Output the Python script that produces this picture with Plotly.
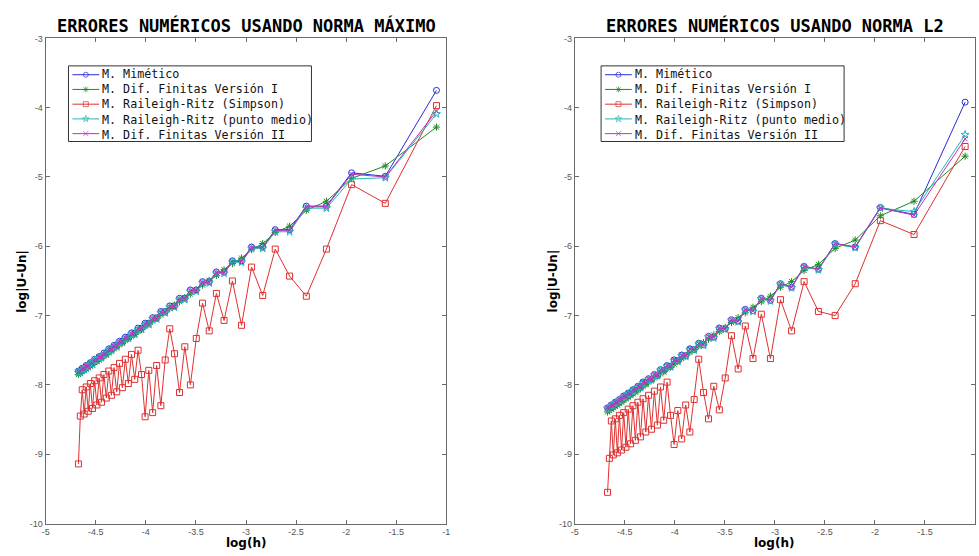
import plotly.graph_objects as go

# log(h) values, h = 1/N for N = 3, 5, ..., 107
x_logh = [-1.0986, -1.6094, -1.9459, -2.1972, -2.3979, -2.5649, -2.7081, -2.8332, -2.9444,
          -3.0445, -3.1355, -3.2189, -3.2958, -3.3673, -3.4340, -3.4965, -3.5553, -3.6109,
          -3.6636, -3.7136, -3.7612, -3.8067, -3.8501, -3.8918, -3.9318, -3.9703, -4.0073,
          -4.0431, -4.0775, -4.1109, -4.1431, -4.1744, -4.2047, -4.2341, -4.2627, -4.2905,
          -4.3175, -4.3438, -4.3694, -4.3944, -4.4188, -4.4427, -4.4659, -4.4886, -4.5109,
          -4.5326, -4.5539, -4.5747, -4.5951, -4.6151, -4.6347, -4.6540, -4.6728]

# ---- Norma máximo (left) ----
max_mimetico = [-3.75, -4.99, -4.94, -5.42, -5.42, -5.76, -5.76, -6.01, -6.01, -6.21, -6.21,
                -6.37, -6.37, -6.51, -6.51, -6.63, -6.63, -6.75, -6.75, -6.86, -6.86, -6.94,
                -6.94, -7.03, -7.03, -7.11, -7.11, -7.18, -7.18, -7.25, -7.25, -7.31, -7.31,
                -7.37, -7.37, -7.43, -7.43, -7.48, -7.48, -7.54, -7.54, -7.59, -7.59, -7.63,
                -7.63, -7.68, -7.68, -7.72, -7.72, -7.76, -7.76, -7.80, -7.80]
max_dif1 = [-4.28, -4.84, -5.02, -5.35, -5.48, -5.71, -5.80, -5.96, -6.05, -6.17, -6.25,
            -6.34, -6.42, -6.49, -6.56, -6.63, -6.69, -6.74, -6.80, -6.85, -6.90, -6.95,
            -6.99, -7.04, -7.08, -7.12, -7.16, -7.20, -7.23, -7.27, -7.30, -7.33, -7.36,
            -7.39, -7.42, -7.45, -7.48, -7.51, -7.54, -7.56, -7.59, -7.61, -7.64, -7.66,
            -7.68, -7.71, -7.73, -7.75, -7.77, -7.79, -7.81, -7.83, -7.85]
max_simpson = [-3.97, -5.38, -5.11, -6.04, -6.72, -6.43, -6.04, -6.71, -6.30, -7.14, -6.50,
               -7.07, -6.68, -7.22, -6.82, -7.33, -8.00, -7.45, -8.11, -7.55, -7.19, -7.64,
               -8.30, -7.72, -8.40, -7.79, -8.46, -7.85, -7.50, -7.92, -7.56, -7.98, -7.63,
               -8.04, -7.69, -8.10, -7.75, -8.15, -7.80, -8.19, -7.85, -8.25, -7.90, -8.29,
               -7.94, -8.34, -7.98, -8.38, -8.03, -8.42, -8.07, -8.45, -9.14]
max_pmedio = [-4.09, -5.01, -5.03, -5.45, -5.45, -5.79, -5.79, -6.03, -6.03, -6.23, -6.23,
              -6.39, -6.39, -6.53, -6.53, -6.65, -6.65, -6.77, -6.77, -6.88, -6.88, -6.96,
              -6.96, -7.05, -7.05, -7.13, -7.13, -7.20, -7.20, -7.27, -7.27, -7.33, -7.33,
              -7.39, -7.39, -7.45, -7.45, -7.50, -7.50, -7.56, -7.56, -7.61, -7.61, -7.65,
              -7.65, -7.70, -7.70, -7.74, -7.74, -7.78, -7.78, -7.82, -7.82]
max_dif2 = [-4.05, -5.00, -4.96, -5.43, -5.43, -5.77, -5.77, -6.02, -6.02, -6.22, -6.22,
            -6.38, -6.38, -6.52, -6.52, -6.64, -6.64, -6.76, -6.76, -6.87, -6.87, -6.95,
            -6.95, -7.04, -7.04, -7.12, -7.12, -7.19, -7.19, -7.26, -7.26, -7.32, -7.32,
            -7.38, -7.38, -7.44, -7.44, -7.49, -7.49, -7.55, -7.55, -7.60, -7.60, -7.64,
            -7.64, -7.69, -7.69, -7.73, -7.73, -7.77, -7.77, -7.81, -7.81]

# ---- Norma L2 (right) ----
l2_mimetico = [-3.92, -5.54, -5.44, -6.01, -5.96, -6.33, -6.29, -6.59, -6.54, -6.78, -6.75,
               -6.93, -6.91, -7.08, -7.06, -7.19, -7.18, -7.31, -7.30, -7.42, -7.40, -7.49,
               -7.48, -7.58, -7.57, -7.65, -7.64, -7.73, -7.72, -7.79, -7.78, -7.86, -7.85,
               -7.92, -7.91, -7.97, -7.96, -8.03, -8.02, -8.08, -8.07, -8.13, -8.12, -8.17,
               -8.16, -8.22, -8.21, -8.26, -8.25, -8.30, -8.29, -8.34, -8.33]
l2_dif1 = [-4.70, -5.35, -5.56, -5.91, -6.03, -6.26, -6.35, -6.51, -6.59, -6.72, -6.80,
           -6.88, -6.96, -7.03, -7.10, -7.17, -7.23, -7.28, -7.34, -7.39, -7.44, -7.49,
           -7.53, -7.58, -7.62, -7.66, -7.70, -7.74, -7.77, -7.81, -7.84, -7.87, -7.90,
           -7.93, -7.96, -7.99, -8.02, -8.05, -8.08, -8.10, -8.13, -8.15, -8.18, -8.20,
           -8.22, -8.25, -8.27, -8.29, -8.31, -8.33, -8.35, -8.37, -8.39]
l2_simpson = [-4.56, -5.83, -5.63, -6.54, -7.00, -6.94, -6.51, -7.22, -6.77, -7.62, -6.98,
              -7.62, -7.15, -7.77, -7.29, -7.90, -8.36, -8.02, -8.49, -8.11, -7.63, -8.21,
              -8.68, -8.29, -8.78, -8.37, -8.86, -8.44, -7.96, -8.51, -8.03, -8.58, -8.09,
              -8.64, -8.15, -8.68, -8.20, -8.75, -8.25, -8.80, -8.30, -8.85, -8.35, -8.90,
              -8.40, -8.94, -8.44, -8.98, -8.49, -9.01, -8.52, -9.06, -9.55]
l2_pmedio = [-4.39, -5.50, -5.45, -6.02, -5.97, -6.34, -6.30, -6.60, -6.55, -6.79, -6.76,
             -6.94, -6.92, -7.09, -7.07, -7.20, -7.19, -7.32, -7.31, -7.43, -7.41, -7.50,
             -7.49, -7.59, -7.58, -7.66, -7.65, -7.74, -7.73, -7.80, -7.79, -7.87, -7.86,
             -7.93, -7.92, -7.98, -7.97, -8.04, -8.03, -8.09, -8.08, -8.14, -8.13, -8.18,
             -8.17, -8.23, -8.22, -8.27, -8.26, -8.31, -8.30, -8.35, -8.34]
l2_dif2 = [-4.45, -5.55, -5.45, -6.01, -5.96, -6.33, -6.29, -6.59, -6.54, -6.78, -6.75,
           -6.93, -6.91, -7.08, -7.06, -7.19, -7.18, -7.31, -7.30, -7.42, -7.40, -7.49,
           -7.48, -7.58, -7.57, -7.65, -7.64, -7.73, -7.72, -7.79, -7.78, -7.86, -7.85,
           -7.92, -7.91, -7.97, -7.96, -8.03, -8.02, -8.08, -8.07, -8.13, -8.12, -8.17,
           -8.16, -8.22, -8.21, -8.26, -8.25, -8.30, -8.29, -8.34, -8.33]

names = ["M. Mimético", "M. Dif. Finitas Versión I", "M. Raileigh-Ritz (Simpson)",
         "M. Raileigh-Ritz (punto medio)", "M. Dif. Finitas Versión II"]
colors = ["#2a2ad8", "#1f8a1f", "#e03030", "#20b8b8", "#c030c0"]
symbols = ["circle-open", "asterisk-open", "square-open", "star-open", "x-thin-open"]
sizes = [6, 6, 6, 6, 5]

left_series = [max_mimetico, max_dif1, max_simpson, max_pmedio, max_dif2]
right_series = [l2_mimetico, l2_dif1, l2_simpson, l2_pmedio, l2_dif2]

W, H = 979, 556
fig = go.Figure()


def add_series(series, xa, ya):
    for i, ys in enumerate(series):
        fig.add_trace(go.Scatter(
            x=x_logh, y=ys, mode="lines+markers", name=names[i], showlegend=False,
            line=dict(color=colors[i], width=1),
            marker=dict(symbol=symbols[i], size=sizes[i], color=colors[i],
                        line=dict(width=1, color=colors[i])),
            xaxis=xa, yaxis=ya))


add_series(left_series, "x", "y")
add_series(right_series, "x2", "y2")

# ---- legend boxes (pixel-space overlay axis) ----
leg_left = [65, 602]        # box left edges (px)
leg_top, row0, row_gap = 62, 71, 15
leg_w, leg_h = 245, 77
for lx in leg_left:
    for i in range(len(names)):
        ry = row0 + row_gap * i
        fig.add_trace(go.Scatter(
            x=[lx + 4, lx + 17.5, lx + 31], y=[ry, ry, ry], mode="lines+markers",
            showlegend=False, hoverinfo="skip",
            line=dict(color=colors[i], width=1),
            marker=dict(symbol=symbols[i], size=[0, 5, 0], color=colors[i],
                        line=dict(width=1, color=colors[i])),
            xaxis="x3", yaxis="y3"))
    fig.add_shape(type="rect", xref="paper", yref="paper",
                  x0=lx / W, x1=(lx + leg_w) / W, y0=1 - leg_top / H, y1=1 - (leg_top + leg_h) / H,
                  line=dict(color="#333333", width=1), fillcolor="rgba(0,0,0,0)", layer="above")
    fig.add_annotation(xref="paper", yref="paper", x=(lx + 32) / W, y=1 - (row0 + 2 * row_gap) / H,
                       xanchor="left", yanchor="middle", align="left", showarrow=False,
                       text="<br>".join(names),
                       font=dict(family="DejaVu Sans Mono", size=11.7, color="#111111"))

xt = [-5, -4.5, -4, -3.5, -3, -2.5, -2, -1.5, -1]
xtt = ["-5", "-4.5", "-4", "-3.5", "-3", "-2.5", "-2", "-1.5", "-1"]
yt = [-10, -9, -8, -7, -6, -5, -4, -3]
ytt = ["-10", "-9", "-8", "-7", "-6", "-5", "-4", "-3"]

tickfont = dict(family="Liberation Sans, Arial", size=9, color="#555555")
axcommon = dict(showgrid=False, zeroline=False, showline=True, linecolor="#6a6a6a", linewidth=1,
                mirror="ticks", ticks="inside", ticklen=4, tickcolor="#6a6a6a", tickwidth=1,
                tickfont=tickfont)

ybot = (H - 528) / H
ytop = (H - 34) / H

fig.update_layout(
    width=W, height=H, margin=dict(l=0, r=0, t=0, b=0),
    paper_bgcolor="white", plot_bgcolor="rgba(0,0,0,0)", showlegend=False,
    xaxis=dict(domain=[42 / W, 446 / W], range=[-5, -1], tickvals=xt, ticktext=xtt, anchor="y", **axcommon),
    yaxis=dict(domain=[ybot, ytop], range=[-10, -3], tickvals=yt, ticktext=ytt, anchor="x", **axcommon),
    xaxis2=dict(domain=[575.5 / W, 1.0], range=[-5, -1], tickvals=xt, ticktext=xtt, anchor="y2", **axcommon),
    yaxis2=dict(domain=[ybot, ytop], range=[-10, -3], tickvals=yt, ticktext=ytt, anchor="x2", **axcommon),
    xaxis3=dict(domain=[0, 1], range=[0, W], visible=False, anchor="y3", fixedrange=True),
    yaxis3=dict(domain=[0, 1], range=[H, 0], visible=False, anchor="x3", fixedrange=True),
)

titlefont = dict(family="DejaVu Sans Mono", size=17, color="black")
labfont = dict(family="DejaVu Sans", size=12, color="black")
ann = [
    dict(text="<b>ERRORES NUMÉRICOS USANDO NORMA MÁXIMO</b>", x=244 / W, y=1 - 21 / H, font=titlefont),
    dict(text="<b>ERRORES NUMÉRICOS USANDO NORMA L2</b>", x=777 / W, y=1 - 21 / H, font=titlefont),
    dict(text="<b>log(h)</b>", x=244 / W, y=1 - 548 / H, font=labfont),
    dict(text="<b>log(h)</b>", x=776 / W, y=1 - 548 / H, font=labfont),
    dict(text="<b>log|U-Un|</b>", x=18 / W, y=1 - 281 / H, font=labfont, textangle=-90),
    dict(text="<b>log|U-Un|</b>", x=553 / W, y=1 - 281 / H, font=labfont, textangle=-90),
]
for a in ann:
    fig.add_annotation(xref="paper", yref="paper", showarrow=False, xanchor="center", yanchor="middle", **a)

fig.write_html("out.html")
